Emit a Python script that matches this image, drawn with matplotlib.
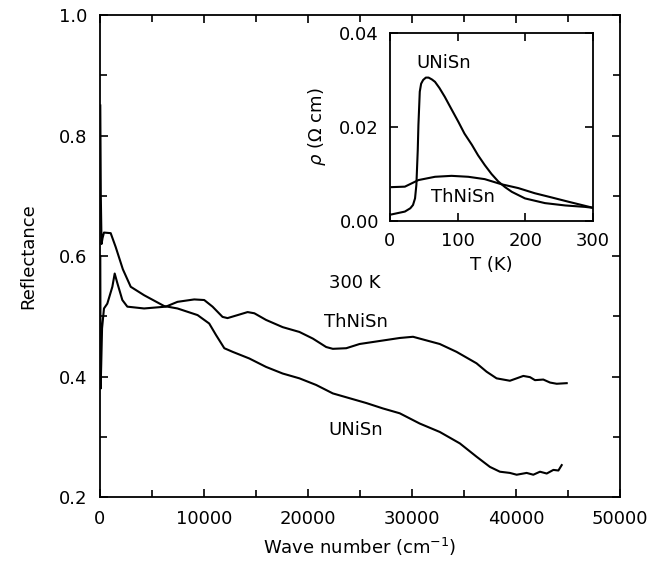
import matplotlib
matplotlib.use("Agg")
import matplotlib.pyplot as plt
from matplotlib.ticker import MultipleLocator, FormatStrFormatter

plt.rcParams.update({
    "font.family": "DejaVu Sans",
    "font.size": 13,
    "xtick.direction": "in", "ytick.direction": "in",
    "xtick.top": True, "ytick.right": True,
})

# reflectance at 300 K
uni_wn = [30, 80, 150, 250, 385, 1030, 1510, 2200, 2955, 4240, 6170, 7450, 9380,
          10500, 11150, 11950, 12750, 14350, 15960, 17560, 19170, 20780, 22380,
          23990, 25600, 27200, 28810, 30730, 32660, 34590, 36190, 37480, 38440,
          39400, 40050, 41010, 41650, 42290, 42940, 43580, 44060, 44380]
uni_r = [0.85, 0.70, 0.62, 0.63, 0.639, 0.638, 0.615, 0.578, 0.549, 0.535, 0.517,
         0.513, 0.502, 0.488, 0.469, 0.447, 0.441, 0.430, 0.416, 0.405, 0.397,
         0.386, 0.372, 0.364, 0.356, 0.347, 0.339, 0.322, 0.308, 0.289, 0.267,
         0.250, 0.242, 0.240, 0.237, 0.240, 0.237, 0.242, 0.239, 0.245, 0.244,
         0.253]

thn_wn = [30, 60, 120, 200, 385, 705, 1190, 1415, 1670, 2150, 2630, 4240, 6330,
          7450, 9060, 10020, 10820, 11780, 12260, 13230, 14190, 14840, 15960,
          17560, 19170, 20460, 21740, 22380, 23670, 24950, 26880, 28810, 30090,
          30730, 32660, 34270, 36190, 37160, 38120, 39400, 40050, 40690, 41330,
          41810, 42610, 43260, 43900, 44860]
thn_r = [0.60, 0.38, 0.42, 0.48, 0.513, 0.521, 0.549, 0.571, 0.555, 0.527, 0.516,
         0.513, 0.516, 0.524, 0.528, 0.527, 0.516, 0.499, 0.497, 0.502, 0.507,
         0.505, 0.494, 0.482, 0.474, 0.463, 0.449, 0.446, 0.447, 0.454, 0.459,
         0.464, 0.466, 0.463, 0.454, 0.441, 0.422, 0.408, 0.397, 0.393, 0.397,
         0.401, 0.399, 0.394, 0.395, 0.390, 0.388, 0.389]

# resistivity inset
uni_T = [2.5, 22, 30, 34, 37, 39, 41, 42, 44, 46, 49, 53, 57, 62, 66.5, 73, 81,
         90, 101, 110, 121, 130, 140, 150, 160, 170, 180, 199.5, 229, 259, 288, 300]
uni_rho = [0.0014, 0.0020, 0.0027, 0.0034, 0.0048, 0.0077, 0.0150, 0.0204,
           0.0275, 0.0292, 0.0300, 0.0305, 0.0305, 0.0301, 0.0296, 0.0283,
           0.0264, 0.0240, 0.0211, 0.0186, 0.0162, 0.0140, 0.0119, 0.0100,
           0.0084, 0.0072, 0.0062, 0.0048, 0.0038, 0.0033, 0.0030, 0.0028]
thn_T = [2.5, 22, 42, 66.5, 91, 115.7, 140, 165, 189.5, 214, 239, 263.5, 300]
thn_rho = [0.0072, 0.0073, 0.0087, 0.0094, 0.0096, 0.0094, 0.0089, 0.0078,
           0.0070, 0.0059, 0.0050, 0.0041, 0.0028]

fig = plt.figure(figsize=(6.56, 5.63), dpi=100)
ax = fig.add_axes([0.1524, 0.1172, 0.793, 0.856])
ax.plot(uni_wn, uni_r, color="black", lw=1.5)
ax.plot(thn_wn, thn_r, color="black", lw=1.5)
ax.set_xlim(0, 50000)
ax.set_ylim(0.2, 1.0)
ax.xaxis.set_major_locator(MultipleLocator(10000))
ax.xaxis.set_minor_locator(MultipleLocator(5000))
ax.yaxis.set_major_locator(MultipleLocator(0.2))
ax.yaxis.set_minor_locator(MultipleLocator(0.1))
ax.yaxis.set_major_formatter(FormatStrFormatter("%.1f"))
ax.tick_params(which="major", length=6, width=1.2, pad=9)
ax.tick_params(which="minor", length=5, width=1.2)
for s in ax.spines.values():
    s.set_linewidth(1.3)
ax.set_xlabel("Wave number (cm$^{-1}$)", labelpad=6)
ax.set_ylabel("Reflectance", labelpad=16)
ax.text(24470, 0.555, "300 K", ha="center", va="center")
ax.text(24570, 0.490, "ThNiSn", ha="center", va="center")
ax.text(24570, 0.311, "UNiSn", ha="center", va="center")

ins = fig.add_axes([0.5945, 0.6075, 0.3095, 0.334])
ins.plot(uni_T, uni_rho, color="black", lw=1.5)
ins.plot(thn_T, thn_rho, color="black", lw=1.5)
ins.set_xlim(0, 300)
ins.set_ylim(0, 0.04)
ins.xaxis.set_major_locator(MultipleLocator(100))
ins.yaxis.set_major_locator(MultipleLocator(0.02))
ins.yaxis.set_major_formatter(FormatStrFormatter("%.2f"))
ins.tick_params(which="major", length=6, width=1.2, pad=8)
for s in ins.spines.values():
    s.set_linewidth(1.3)
ins.set_xlabel("T (K)", labelpad=4)
ins.set_ylabel(r"$\rho$ ($\Omega$ cm)", labelpad=8)
ins.text(80, 0.0336, "UNiSn", ha="center", va="center")
ins.text(108, 0.0051, "ThNiSn", ha="center", va="center")

fig.savefig("out.png", dpi=100)
